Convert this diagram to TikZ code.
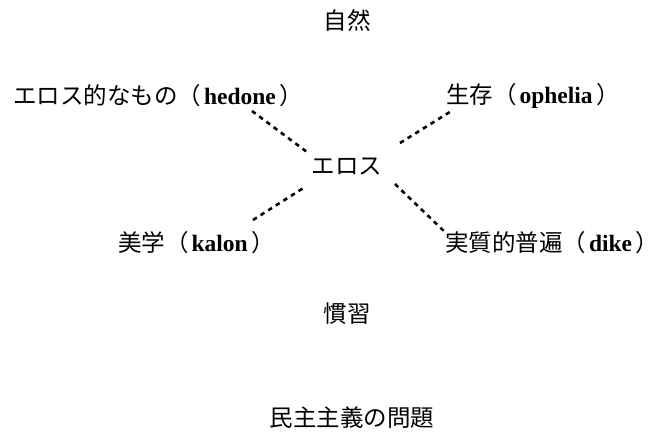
\documentclass[tikz,border=0pt]{standalone}
\usepackage{fontspec}
\setmainfont{Noto Sans CJK JP}
\newfontfamily\latf{Liberation Serif}
\newcommand{\lw}[1]{（\hspace{0.12em}{\latf\bfseries #1}\hspace{0.15em}\makebox[0.45em][l]{）}}
\begin{document}
\begin{tikzpicture}[x=1pt,y=-1pt,
  lbl/.style={inner sep=0pt,font=\fontsize{23.5}{28}\selectfont},
  dotline/.style={line width=2.6pt,dash pattern=on 4.5pt off 4.5pt}]
\useasboundingbox (0,0) rectangle (661,438);
\node[lbl] (shizen) at (347,21) {自然};
\node[lbl,anchor=west] (hedone) at (13,96) {エロス的なもの\lw{hedone}};
\node[lbl,anchor=west] (ophelia) at (446,96) {生存\lw{ophelia}};
\node[lbl] (eros) at (347,166) {エロス};
\node[lbl,anchor=west] (kalon) at (118,243) {美学\lw{kalon}};
\node[lbl,anchor=west] (dike) at (445,243) {実質的普遍\lw{dike}};
\node[lbl] (kanshu) at (347,314) {慣習};
\node[lbl] (minshu) at (352,418) {民主主義の問題};
\coordinate (a1) at (252,111);
\coordinate (a2) at (307,152);
\coordinate (b1) at (400,143);
\coordinate (b2) at (453,110);
\coordinate (c1) at (253,220);
\coordinate (c2) at (305,187);
\coordinate (d1) at (395,184);
\coordinate (d2) at (446,233);
\draw[dotline] (a1) -- (a2);
\draw[dotline] (b1) -- (b2);
\draw[dotline] (c1) -- (c2);
\draw[dotline] (d1) -- (d2);
\end{tikzpicture}
\end{document}
